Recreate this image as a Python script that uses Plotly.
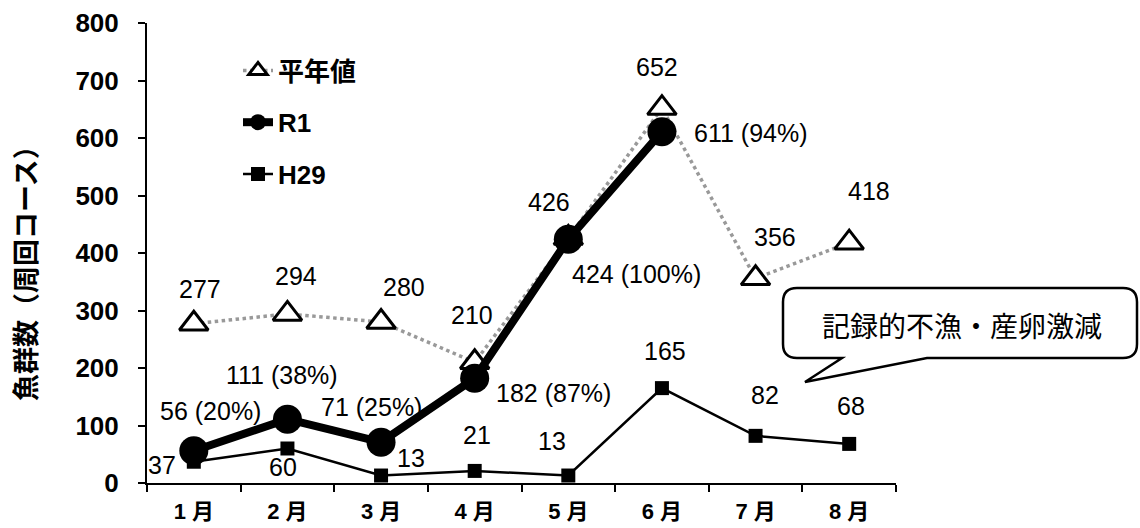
import plotly.graph_objects as go

# ---- data ----
months = ["1 月", "2 月", "3 月", "4 月", "5 月", "6 月", "7 月", "8 月"]
normal_values = [277, 294, 280, 210, 426, 652, 356, 418]   # 平年値
r1_values = [56, 111, 71, 182, 424, 611]                    # R1 (through June)
h29_values = [37, 60, 13, 21, 13, 165, 82, 68]              # H29
y_ticks = [0, 100, 200, 300, 400, 500, 600, 700, 800]

# ---- label placement (pixel offsets from each point: dx, dy up, anchor) ----
normal_offsets = [(6, 35, "center"), (9, 38, "center"), (23, 35, "center"), (-3, 47, "center"),
                  (-19, 36, "center"), (-5, 41, "center"), (19, 41, "center"), (20, 52, "center")]
r1_offsets = [(17, 40, "center"), (-5, 44, "center"), (-10, 35, "center"),
              (19, -15, "left"), (2, -35, "left"), (30, -1, "left")]
h29_offsets = [(-32, -3, "center"), (-4, -18, "center"), (30, 18, "center"), (2, 36, "center"),
               (-16, 35, "center"), (3, 37, "center"), (9, 41, "center"), (2, 38, "center")]

FONT = "Liberation Sans, Arial, Noto Sans CJK JP, sans-serif"
CJK = "Noto Sans CJK JP, sans-serif"

# plot area in pixels
L, R, T, B = 147, 896, 23, 483
W, H = 1140, 528


def px(x):
    return (x - L) / (R - L)


def py(y):
    return (B - y) / (B - T)


fig = go.Figure()

fig.add_trace(go.Scatter(
    x=months, y=normal_values, name="平年値", mode="lines+markers",
    line=dict(color="#999999", width=3.5, dash="dot"),
    marker=dict(symbol="triangle-up", size=25, color="white",
                line=dict(color="black", width=3)),
    legendgroup="a",
))
fig.add_trace(go.Scatter(
    x=months[:len(r1_values)], y=r1_values, name="R1", mode="lines+markers",
    line=dict(color="black", width=8),
    marker=dict(symbol="circle", size=29, color="black"),
    legendgroup="b",
))
fig.add_trace(go.Scatter(
    x=months, y=h29_values, name="H29", mode="lines+markers",
    line=dict(color="black", width=2.5),
    marker=dict(symbol="square", size=14, color="black"),
    legendgroup="c",
))

annotations = []


def add_labels(values, texts, offsets):
    for i, (v, t) in enumerate(zip(values, texts)):
        dx, dy, anchor = offsets[i]
        annotations.append(dict(
            x=months[i], y=v, xref="x", yref="y", text=t, showarrow=False,
            xshift=dx, yshift=dy, xanchor=anchor, yanchor="middle",
            font=dict(family=FONT, size=25, color="black"),
        ))


add_labels(normal_values, [str(v) for v in normal_values], normal_offsets)
r1_texts = [f"{v} ({round(v / n * 100)}%)" for v, n in zip(r1_values, normal_values)]
add_labels(r1_values, r1_texts, r1_offsets)
add_labels(h29_values, [str(v) for v in h29_values], h29_offsets)

# y-axis title
annotations.append(dict(
    x=px(24), y=py(267), xref="paper", yref="paper", text="魚群数（周回コース）",
    textangle=-90, showarrow=False, xanchor="center", yanchor="middle",
    font=dict(family=CJK, size=27, color="black", weight="bold"),
))

# callout box
bx0, bx1, by0, by1, r = 783, 1137, 288, 358, 14
tail = [(927, by1), (805, 382), (842, by1)]
pts = [
    f"M {px(bx0 + r)},{py(by0)}",
    f"L {px(bx1 - r)},{py(by0)}",
    f"Q {px(bx1)},{py(by0)} {px(bx1)},{py(by0 + r)}",
    f"L {px(bx1)},{py(by1 - r)}",
    f"Q {px(bx1)},{py(by1)} {px(bx1 - r)},{py(by1)}",
] + [f"L {px(x)},{py(y)}" for x, y in tail] + [
    f"L {px(bx0 + r)},{py(by1)}",
    f"Q {px(bx0)},{py(by1)} {px(bx0)},{py(by1 - r)}",
    f"L {px(bx0)},{py(by0 + r)}",
    f"Q {px(bx0)},{py(by0)} {px(bx0 + r)},{py(by0)}",
    "Z",
]
shapes = [dict(type="path", xref="paper", yref="paper", path=" ".join(pts),
               fillcolor="white", line=dict(color="black", width=2.5), layer="above")]
annotations.append(dict(
    x=px(962), y=py(325), xref="paper", yref="paper", text="記録的不漁・産卵激減",
    showarrow=False, xanchor="center", yanchor="middle",
    font=dict(family=CJK, size=28, color="black"),
))

fig.update_layout(
    width=W, height=H,
    margin=dict(l=L, r=W - R, t=T, b=H - B),
    paper_bgcolor="white", plot_bgcolor="white",
    showlegend=True,
    legend=dict(x=px(238), y=py(47), xanchor="left", yanchor="top",
                bgcolor="rgba(0,0,0,0)", tracegroupgap=15,
                font=dict(family=FONT + ", " + CJK, size=26, color="black", weight="bold")),
    annotations=annotations,
    shapes=shapes,
    xaxis=dict(type="category", categoryorder="array", categoryarray=months,
               range=[-0.5, 7.5], tickson="boundaries", ticks="outside", ticklen=7,
               tickwidth=2, tickcolor="black", showline=True, linecolor="black", linewidth=2,
               showgrid=False, zeroline=False, ticklabelstandoff=8, automargin=False,
               tickfont=dict(family=FONT + ", " + CJK, size=22, color="black", weight="bold")),
    yaxis=dict(range=[0, 800], tickvals=y_ticks, ticks="outside", ticklen=7, tickwidth=2,
               tickcolor="black", showline=True, linecolor="black", linewidth=2,
               showgrid=False, zeroline=False, ticklabelstandoff=14, automargin=False,
               tickfont=dict(family=FONT, size=26, color="black", weight="bold")),
)

fig.write_html("out.html")
